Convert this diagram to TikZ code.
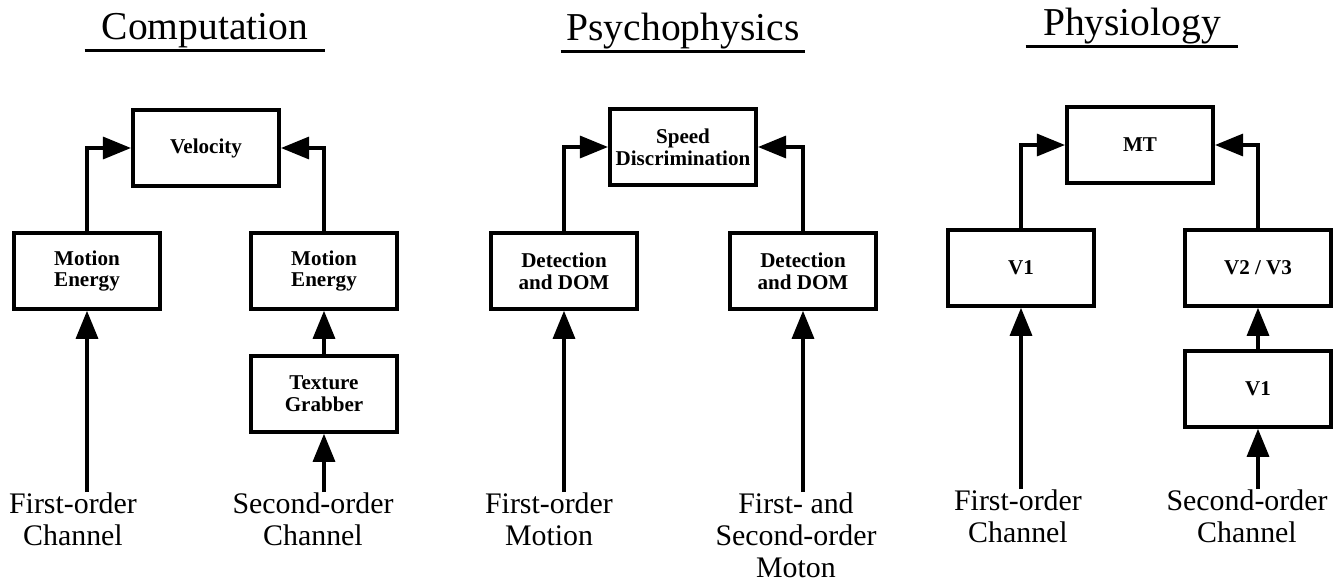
\documentclass[tikz,border=0pt]{standalone}
\usepackage{fontspec}
\setmainfont{Liberation Serif}
\usetikzlibrary{arrows.meta}
\begin{document}
\begin{tikzpicture}[x=0.02cm,y=-0.02cm,
    box/.style={draw,line width=2pt,minimum width=2.93cm,minimum height=1.52cm,align=center,font=\bfseries\fontsize{12}{12.5}\selectfont},
    lbl/.style={anchor=north,inner sep=0pt,align=center,font=\fontsize{17}{18.3}\selectfont},
    ttl/.style={anchor=base,inner xsep=0pt,inner ysep=1.5pt,font=\fontsize{22.5}{26}\selectfont},
    arr/.style={line width=2pt,-{Triangle[length=16pt,width=12.5pt]}},
    uline/.style={line width=1.6pt}]
    \useasboundingbox (0,0) rectangle (1342,582);
    % titles
    \node[ttl,minimum width=4.8cm] (t1) at (205,39) {Computation};
    \node[ttl,minimum width=4.88cm] (t2) at (683,40) {Psychophysics};
    \node[ttl,minimum width=4.24cm] (t3) at (1132,35) {Physiology};
    \draw[uline] (t1.south west) -- (t1.south east);
    \draw[uline] (t2.south west) -- (t2.south east);
    \draw[uline] (t3.south west) -- (t3.south east);
    % computation
    \node[box] (vel) at (206,148) {Velocity};
    \node[box] (meL) at (87,271) {Motion\\Energy};
    \node[box] (meR) at (324,271) {Motion\\Energy};
    \node[box] (tg) at (324,394) {Texture\\Grabber};
    \node[lbl] (fc1) at (73,492) {First-order\\Channel};
    \node[lbl] (sc1) at (313,492) {Second-order\\Channel};
    \draw[arr] (meL.north) |- (vel.west);
    \draw[arr] (meR.north) |- (vel.east);
    \draw[arr] (tg.north) -- (meR.south);
    \draw[arr] (meL.south |- fc1.north) -- (meL.south);
    \draw[arr] (tg.south |- sc1.north) -- (tg.south);
    % psychophysics
    \node[box] (sd) at (683,147) {Speed\\Discrimination};
    \node[box] (ddL) at (564,271) {Detection\\and DOM};
    \node[box] (ddR) at (803,271) {Detection\\and DOM};
    \node[lbl] (fm) at (549,492) {First-order\\Motion};
    \node[lbl] (fsm) at (796,492) {First- and\\Second-order\\Moton};
    \draw[arr] (ddL.north) |- (sd.west);
    \draw[arr] (ddR.north) |- (sd.east);
    \draw[arr] (ddL.south |- fm.north) -- (ddL.south);
    \draw[arr] (ddR.south |- fsm.north) -- (ddR.south);
    % physiology
    \node[box] (mt) at (1140,145) {MT};
    \node[box] (v1a) at (1021,268) {V1};
    \node[box] (v23) at (1258,268) {V2 / V3};
    \node[box] (v1b) at (1258,389) {V1};
    \node[lbl] (fc3) at (1018,489) {First-order\\Channel};
    \node[lbl] (sc3) at (1247,489) {Second-order\\Channel};
    \draw[arr] (v1a.north) |- (mt.west);
    \draw[arr] (v23.north) |- (mt.east);
    \draw[arr] (v1b.north) -- (v23.south);
    \draw[arr] (v1a.south |- fc3.north) -- (v1a.south);
    \draw[arr] (v1b.south |- sc3.north) -- (v1b.south);
\end{tikzpicture}
\end{document}
